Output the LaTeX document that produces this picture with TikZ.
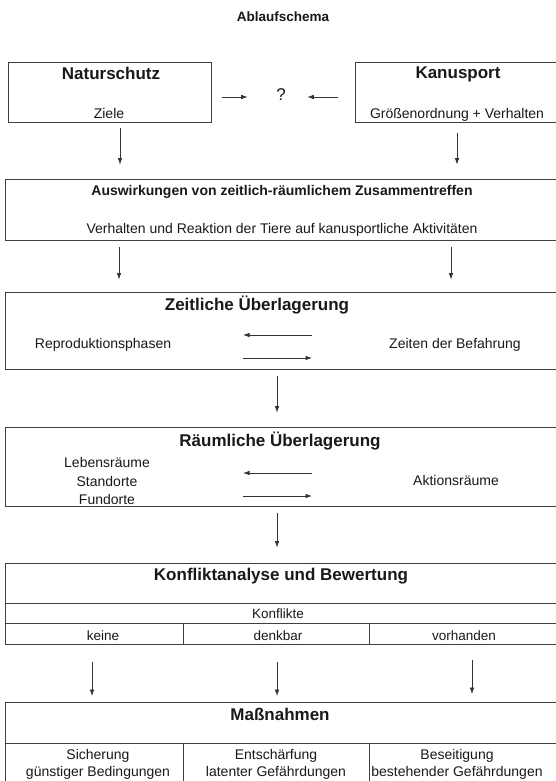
\documentclass[tikz,border=0pt]{standalone}
\usepackage{fontspec}
\setmainfont{Liberation Sans}
\usetikzlibrary{arrows.meta}
\usetikzlibrary{calc}

\begin{document}
\begin{tikzpicture}[x=1pt,y=-1pt]
	\tikzstyle{kasten}=[rectangle,draw=black!75,line width=.8pt,inner sep=0pt]
	\tikzstyle{kopf}=[font=\fontsize{17}{20}\selectfont\bfseries,text=black!90]
	\tikzstyle{zwkopf}=[font=\fontsize{14}{17}\selectfont\bfseries,text=black!90]
	\tikzstyle{lbl}=[font=\fontsize{14}{17}\selectfont,align=center,text=black!90]
	\tikzstyle{klein}=[font=\fontsize{13.5}{16}\selectfont,text=black!90]
	\tikzstyle{pfeil}=[-{Latex[length=6.5pt,width=4.5pt]},line width=.75pt,draw=black!80]
	\tikzstyle{linie}=[draw=black!75,line width=.8pt]
	\useasboundingbox[fill=white] (0,0) rectangle (555,781);

	\node[zwkopf,font=\fontsize{13.5}{16}\selectfont\bfseries] (titel) at (283,17) {Ablaufschema};

	\node[kasten,minimum width=203pt,minimum height=60pt] (nat) at (109.5,92) {};
	\node[kasten,minimum width=204pt,minimum height=60pt] (kan) at (457,92) {};
	\node[kopf] (natT) at (111,73) {Naturschutz};
	\node[lbl] (ziele) at (109,113) {Ziele};
	\node[kopf] (kanT) at (458,74.5) {Kanusport};
	\node[lbl] (groesse) at (457,114.5) {Größenordnung + Verhalten};
	\node[kopf,font=\fontsize{17}{20}\selectfont] (frage) at (281,95) {?};
	\draw[pfeil] ($(nat.east)+(11,5)$) -- ($(frage.west)+(-25,2)$);
	\draw[pfeil] ($(kan.west)+(-17,5)$) -- ($(frage.east)+(18,2)$);

	\node[kasten,minimum width=554pt,minimum height=61pt] (ausw) at (282,209.5) {};
	\node[zwkopf] (auswT) at (282,191.5) {Auswirkungen von zeitlich-räumlichem Zusammentreffen};
	\node[lbl] (reaktion) at (282,230) {Verhalten und Reaktion der Tiere auf kanusportliche Aktivitäten};
	\draw[pfeil] ($(nat.south)+(10.5,6)$) -- ($(ausw.north)+(-162,-14)$);
	\draw[pfeil] ($(kan.south)+(0,11)$) -- ($(ausw.north)+(175,-14)$);

	\node[kasten,minimum width=554pt,minimum height=77pt] (zeit) at (282,330.5) {};
	\node[kopf] (zeitT) at (257,305) {Zeitliche Überlagerung};
	\node[lbl] (repro) at (103,345) {Reproduktionsphasen};
	\node[lbl] (befahrung) at (455,345) {Zeiten der Befahrung};
	\draw[pfeil] ($(zeit.center)+(30,4.5)$) -- ($(zeit.center)+(-39,4.5)$);
	\draw[pfeil] ($(zeit.center)+(-39,27.5)$) -- ($(zeit.center)+(30,27.5)$);
	\draw[pfeil] ($(ausw.south)+(-163,7)$) -- ($(zeit.north)+(-163,-12)$);
	\draw[pfeil] ($(ausw.south)+(169,7)$) -- ($(zeit.north)+(169,-12)$);

	\node[kasten,minimum width=554pt,minimum height=79pt] (raum) at (282,466.5) {};
	\node[kopf] (raumT) at (280,441) {Räumliche Überlagerung};
	\node[lbl,font=\fontsize{14}{18.5}\selectfont] (orte) at (107,481) {Lebensräume\\Standorte\\Fundorte};
	\node[lbl] (aktion) at (456,480) {Aktionsräume};
	\draw[pfeil] ($(raum.center)+(30,6.5)$) -- ($(raum.center)+(-39,6.5)$);
	\draw[pfeil] ($(raum.center)+(-39,29.5)$) -- ($(raum.center)+(30,29.5)$);
	\draw[pfeil] ($(zeit.south)+(-5,7)$) -- ($(raum.north)+(-5,-14)$);

	\node[kasten,minimum width=554pt,minimum height=81pt] (konf) at (282,603.5) {};
	\node[kopf] (konfT) at (281,576) {Konfliktanalyse und Bewertung};
	\draw[linie] ($(konf.north west)+(0,41)$) -- ($(konf.north east)+(0,41)$);
	\draw[linie] ($(konf.north west)+(0,61)$) -- ($(konf.north east)+(0,61)$);
	\draw[linie] ($(konf.south west)+(179,0)$) -- ($(konf.south west)+(179,-20)$);
	\draw[linie] ($(konf.south west)+(365,0)$) -- ($(konf.south west)+(365,-20)$);
	\node[klein] (konflikte) at (278,614) {Konflikte};
	\node[klein] (keine) at (103,635.5) {keine};
	\node[klein] (denkbar) at (278,635.5) {denkbar};
	\node[klein] (vorhanden) at (464,635.5) {vorhanden};
	\draw[pfeil] ($(raum.south)+(-5,7)$) -- ($(konf.north)+(-5,-15)$);

	\node[kasten,minimum width=554pt,minimum height=84pt] (mass) at (282,744.5) {};
	\node[kopf] (massT) at (280,714.5) {Maßnahmen};
	\draw[linie] ($(mass.north west)+(0,41)$) -- ($(mass.north east)+(0,41)$);
	\draw[linie] ($(mass.north west)+(179,41)$) -- ($(mass.south west)+(179,0)$);
	\draw[linie] ($(mass.north west)+(365,41)$) -- ($(mass.south west)+(365,0)$);
	\node[lbl] (sicherung) at (98,764) {Sicherung\\günstiger Bedingungen};
	\node[lbl] (entschaerfung) at (276,764) {Entschärfung\\latenter Gefährdungen};
	\node[lbl] (beseitigung) at (457,764) {Beseitigung\\bestehender Gefährdungen};
	\draw[pfeil] ($(konf.south)+(-190,18)$) -- ($(mass.north)+(-190,-6)$);
	\draw[pfeil] ($(konf.south)+(-5,18)$) -- ($(mass.north)+(-5,-6)$);
	\draw[pfeil] ($(konf.south)+(190,16)$) -- ($(mass.north)+(190,-8)$);
\end{tikzpicture}
\end{document}
